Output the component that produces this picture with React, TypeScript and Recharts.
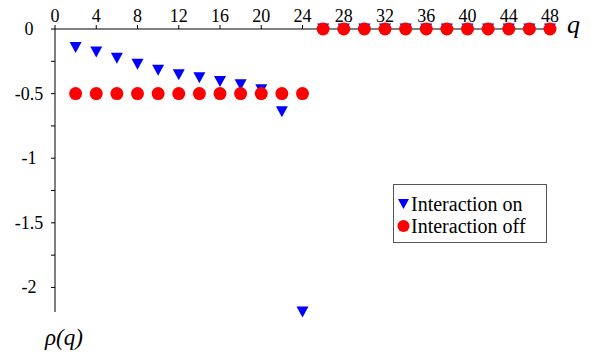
import React from 'react';
import { ScatterChart, Scatter, XAxis, YAxis } from 'recharts';

const qValues = [2, 4, 6, 8, 10, 12, 14, 16, 18, 20, 22, 24, 26, 28, 30, 32, 34, 36, 38, 40, 42, 44, 46, 48];
const interactionOn = [
  -0.143, -0.178, -0.226, -0.272, -0.32, -0.355, -0.378, -0.407, -0.432, -0.47, -0.64, -2.19,
  0, 0, 0, 0, 0, 0, 0, 0, 0, 0, 0, 0,
];
const interactionOff = [
  -0.5, -0.5, -0.5, -0.5, -0.5, -0.5, -0.5, -0.5, -0.5, -0.5, -0.5, -0.5,
  0, 0, 0, 0, 0, 0, 0, 0, 0, 0, 0, 0,
];
const xTicks = [0, 4, 8, 12, 16, 20, 24, 28, 32, 36, 40, 44, 48];
const yTicks = [0, -0.25, -0.5, -0.75, -1, -1.25, -1.5, -1.75, -2];
const yLabels: Record<string, string> = { '0': '0', '-0.5': '-0.5', '-1': '-1', '-1.5': '-1.5', '-2': '-2' };

const FONT = 'Tinos, FreeSerif, "Liberation Serif", "Times New Roman", serif';

const onData = qValues.map((q, i) => ({ q, v: interactionOn[i] }));
const offData = qValues.map((q, i) => ({ q, v: interactionOff[i] }));

function DownTriangle(props: any) {
  const { cx, cy } = props;
  if (cx == null || cy == null) return null;
  return <path d={`M${cx - 6},${cy - 5.5} L${cx + 6},${cy - 5.5} L${cx},${cy + 5.5} Z`} fill="#0000ff" />;
}

function Dot(props: any) {
  const { cx, cy } = props;
  if (cx == null || cy == null) return null;
  return <circle cx={cx} cy={cy} r={6.5} fill="#ff0000" />;
}

function XTick(props: any) {
  const { x, y, payload } = props;
  return (
    <text x={x} y={y} textAnchor="middle" fontSize={18} fontFamily={FONT} style={{ fontFamily: FONT }} fill="#000">
      {payload.value}
    </text>
  );
}

function YTick(props: any) {
  const { x, y, payload } = props;
  const label = yLabels[String(payload.value)];
  if (!label) return null;
  return (
    <text x={x - 22} y={y + 6} textAnchor="middle" fontSize={18} fontFamily={FONT} style={{ fontFamily: FONT }} fill="#000">
      {label}
    </text>
  );
}

export default function App() {
  return (
    <div style={{ position: 'absolute', left: 0, top: 0, width: 591, height: 352, background: '#fff', fontFamily: FONT }}>
      <ScatterChart width={591} height={352} margin={{ top: 0, right: 41, bottom: 40, left: 0 }}>
        <XAxis
          type="number"
          dataKey="q"
          orientation="top"
          height={29}
          domain={[0, 48]}
          ticks={xTicks}
          tickSize={4}
          tickMargin={3}
          tick={<XTick />}
          stroke="#000"
        />
        <YAxis
          type="number"
          dataKey="v"
          width={55}
          domain={[-2.19, 0]}
          ticks={yTicks}
          tickSize={4}
          tickMargin={0}
          tick={<YTick />}
          stroke="#000"
        />
        <Scatter data={onData} shape={<DownTriangle />} isAnimationActive={false} />
        <Scatter data={offData} shape={<Dot />} isAnimationActive={false} />
      </ScatterChart>
      <div
        style={{
          position: 'absolute',
          left: 567,
          top: 12,
          fontFamily: FONT,
          fontStyle: 'italic',
          fontSize: 26,
          lineHeight: '26px',
        }}
      >
        q
      </div>
      <div
        style={{
          position: 'absolute',
          left: 45,
          top: 326,
          fontFamily: FONT,
          fontStyle: 'italic',
          fontSize: 23,
          lineHeight: '24px',
        }}
      >
        ρ(q)
      </div>
      <div
        style={{
          position: 'absolute',
          left: 393,
          top: 184,
          width: 152,
          height: 57,
          border: '1px solid #555',
          fontFamily: FONT,
          fontSize: 20,
          boxSizing: 'content-box',
        }}
      >
        <div style={{ position: 'absolute', left: 3, top: 9, height: 20, lineHeight: '20px', display: 'flex', alignItems: 'center' }}>
          <svg width={13} height={14}>
            <path d="M1,2 L12,2 L6.5,12 Z" fill="#0000ff" />
          </svg>
          <span style={{ marginLeft: 1, fontFamily: FONT }}>Interaction on</span>
        </div>
        <div style={{ position: 'absolute', left: 3, top: 31, height: 20, lineHeight: '20px', display: 'flex', alignItems: 'center' }}>
          <svg width={13} height={14}>
            <circle cx={6.5} cy={7} r={6} fill="#ff0000" />
          </svg>
          <span style={{ marginLeft: 1, fontFamily: FONT }}>Interaction off</span>
        </div>
      </div>
    </div>
  );
}
